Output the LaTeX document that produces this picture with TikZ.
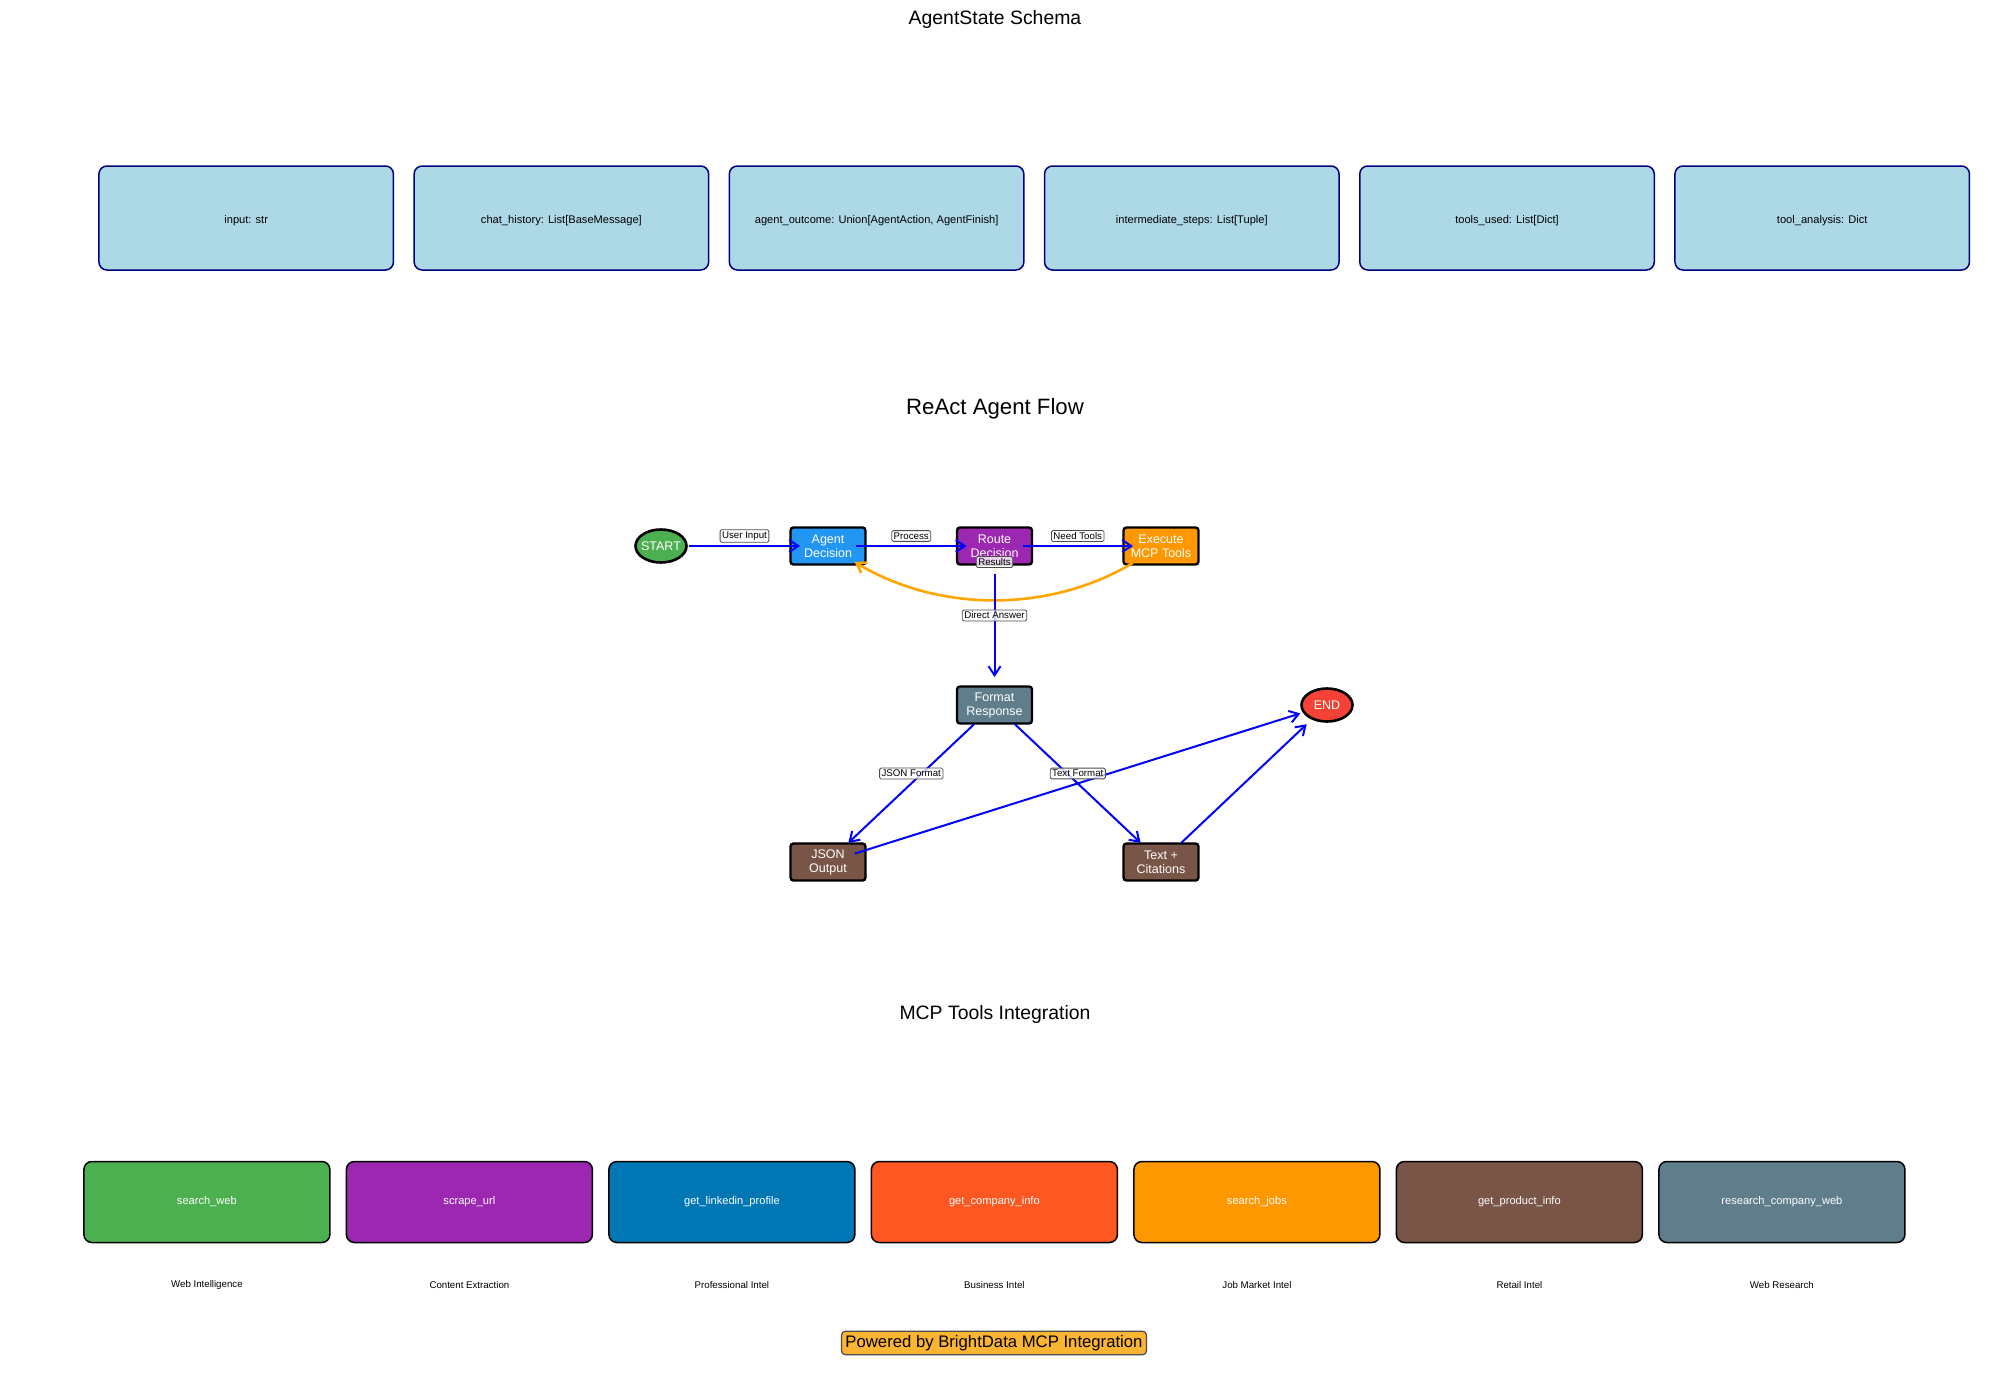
\documentclass[tikz,border=0pt]{standalone}
\usepackage{fontspec}
\setmainfont{Liberation Sans}
\usetikzlibrary{arrows.meta,calc,shapes.geometric}

\definecolor{schemafill}{HTML}{ADD8E6}
\definecolor{schemaline}{HTML}{000080}
\definecolor{cgreen}{HTML}{4CAF50}
\definecolor{cblue}{HTML}{2196F3}
\definecolor{cpurple}{HTML}{9C27B0}
\definecolor{corange}{HTML}{FF9800}
\definecolor{cslate}{HTML}{607D8B}
\definecolor{cred}{HTML}{F44336}
\definecolor{cbrown}{HTML}{795548}
\definecolor{clinked}{HTML}{0077B5}
\definecolor{cdeeporange}{HTML}{FF5722}
\definecolor{footerfill}{HTML}{FBB532}
\definecolor{curveorange}{HTML}{FFA500}

\tikzset{
  sectiontitle/.style={font=\fontsize{19.4}{23}\selectfont, text=black},
  bigtitle/.style={font=\fontsize{22.2}{26}\selectfont, text=black},
  schemabox/.style={draw=schemaline, fill=schemafill, line width=1.5pt,
    rounded corners=8pt, minimum width=294.5pt, minimum height=104pt,
    text height=13pt, text depth=2.5pt,
    font=\fontsize{11.1}{13}\selectfont, text=black},
  toolbox/.style={draw=black, line width=1.5pt, rounded corners=8pt,
    minimum width=246pt, minimum height=81pt,
    font=\fontsize{11.1}{13}\selectfont, text=white},
  toollabel/.style={font=\fontsize{9.7}{11}\selectfont, text=black},
  flowbox/.style={draw=black, line width=2.4pt, rounded corners=3pt,
    minimum width=75pt, minimum height=37pt, inner sep=0pt, align=center,
    font=\fontsize{12.5}{14}\selectfont, text=white},
  terminal/.style={ellipse, draw=black, line width=2.6pt,
    minimum width=51pt, minimum height=33pt, inner sep=0pt,
    font=\fontsize{12.5}{14}\selectfont, text=white},
  flowedge/.style={draw=blue, line width=2pt,
    -{Straight Barb[length=9pt,width=12pt]},
    shorten >=28pt, shorten <=28pt},
  loopedge/.style={draw=curveorange, line width=2.6pt,
    -{Straight Barb[length=9pt,width=12pt]},
    shorten >=31pt, shorten <=33pt},
  edgelabel/.style={draw=black!70, fill=white, fill opacity=0.8, text opacity=1,
    rounded corners=1.5pt, inner sep=2pt, line width=0.8pt,
    font=\fontsize{9.7}{11}\selectfont, text=black},
  footer/.style={draw=black!70, fill=footerfill, line width=1.2pt,
    rounded corners=4pt, inner sep=4pt,
    font=\fontsize{16.7}{19}\selectfont, text=black}
}

\begin{document}
\begin{tikzpicture}[x=1pt,y=-1pt]
\useasboundingbox (0,0) rectangle (1990,1389);

% ---------- state schema ----------
\node[sectiontitle] (schematitle) at (995,19) {AgentState Schema};
\node[schemabox] (s1) at (246.2,218) {input: str};
\node[schemabox] (s2) at (561.4,218) {chat\_history: List[BaseMessage]};
\node[schemabox] (s3) at (876.6,218) {agent\_outcome: Union[AgentAction, AgentFinish]};
\node[schemabox] (s4) at (1191.8,218) {intermediate\_steps: List[Tuple]};
\node[schemabox] (s5) at (1507.0,218) {tools\_used: List[Dict]};
\node[schemabox] (s6) at (1822.2,218) {tool\_analysis: Dict};

% ---------- agent flow ----------
\node[bigtitle] (flowtitle) at (995,409) {ReAct Agent Flow};

\node[terminal, fill=cgreen] (start) at (661,546) {\makebox[0pt]{START}};
\node[flowbox, fill=cblue] (agent) at (828,546) {Agent\\Decision};
\node[flowbox, fill=cpurple] (route) at (994.5,546) {Route\\Decision};
\node[flowbox, fill=corange] (exec) at (1161,546) {Execute\\MCP Tools};
\node[flowbox, fill=cslate] (format) at (994.5,705) {Format\\Response};
\node[terminal, fill=cred] (end) at (1327,705) {\makebox[0pt]{END}};
\node[flowbox, fill=cbrown] (json) at (828,862) {JSON\\Output};
\node[flowbox, fill=cbrown] (text) at (1161,862) {Text +\\Citations};

\draw[flowedge] (start.center) -- (agent.center);
\draw[flowedge] (agent.center) -- (route.center);
\draw[flowedge] (route.center) -- (exec.center);
\draw[loopedge] (exec.center) .. controls +(-111,66.7) and +(111,66.7) .. (agent.center);
\draw[flowedge] (route.center) -- (format.center);
\draw[flowedge] (format.center) -- (json.center);
\draw[flowedge] (format.center) -- (text.center);
\draw[flowedge] (json.center) -- (end.center);
\draw[flowedge] (text.center) -- (end.center);

\node[edgelabel] (lb1) at ($(start.center)!0.5!(agent.center)+(0,-10)$) {User Input};
\node[edgelabel] (lb2) at ($(agent.center)!0.5!(route.center)+(0,-10)$) {Process};
\node[edgelabel] (lb3) at ($(route.center)!0.5!(exec.center)+(0,-10)$) {Need Tools};
\node[edgelabel] (lb4) at ($(exec.center)!0.5!(agent.center)+(0,16)$) {Results};
\node[edgelabel] (lb5) at ($(route.center)!0.5!(format.center)+(0,-10)$) {Direct Answer};
\node[edgelabel] (lb6) at ($(format.center)!0.5!(json.center)+(0,-10)$) {JSON Format};
\node[edgelabel] (lb7) at ($(format.center)!0.5!(text.center)+(0,-10)$) {Text Format};

% ---------- tools ----------
\node[sectiontitle] (tooltitle) at (995,1014) {MCP Tools Integration};

\node[toolbox, fill=cgreen] (t1) at (206.9,1202) {search\_web};
\node[toolbox, fill=cpurple] (t2) at (469.4,1202) {scrape\_url};
\node[toolbox, fill=clinked] (t3) at (731.9,1202) {get\_linkedin\_profile};
\node[toolbox, fill=cdeeporange] (t4) at (994.4,1202) {get\_company\_info};
\node[toolbox, fill=corange] (t5) at (1256.9,1202) {search\_jobs};
\node[toolbox, fill=cbrown] (t6) at (1519.4,1202) {get\_product\_info};
\node[toolbox, fill=cslate] (t7) at (1781.9,1202) {research\_company\_web};

\node[toollabel] (l1) at (206.9,1285) {Web Intelligence};
\node[toollabel] (l2) at (469.4,1285) {Content Extraction};
\node[toollabel] (l3) at (731.9,1285) {Professional Intel};
\node[toollabel] (l4) at (994.4,1285) {Business Intel};
\node[toollabel] (l5) at (1256.9,1285) {Job Market Intel};
\node[toollabel] (l6) at (1519.4,1285) {Retail Intel};
\node[toollabel] (l7) at (1781.9,1285) {Web Research};

\node[footer] (powered) at (994,1343) {Powered by BrightData MCP Integration};
\end{tikzpicture}
\end{document}
